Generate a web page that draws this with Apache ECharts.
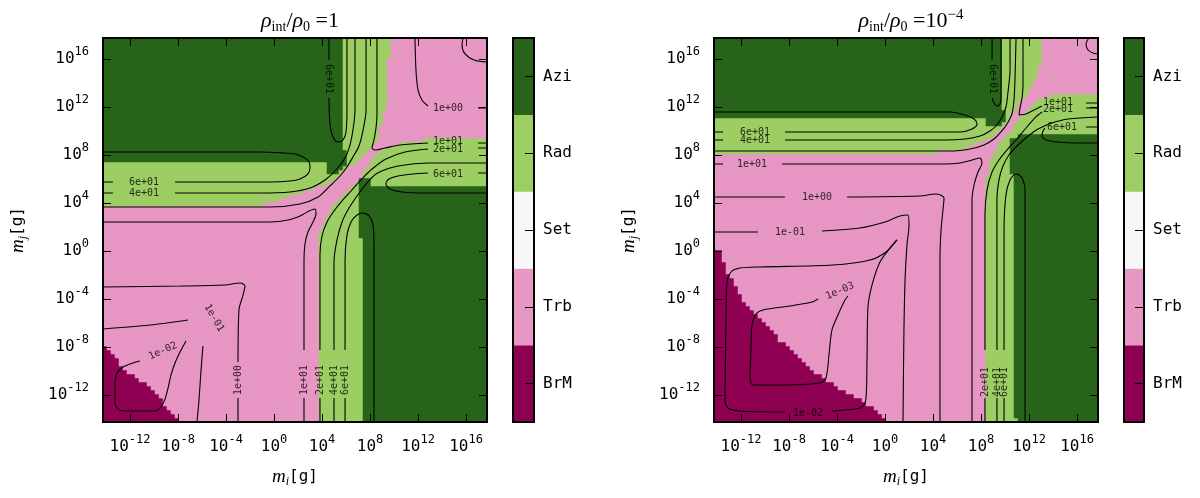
<!DOCTYPE html>
<html><head><meta charset="utf-8">
<script src="https://cdn.jsdelivr.net/npm/echarts@6/dist/echarts.min.js"></script>
<style>html,body{margin:0;padding:0;background:#fff}#c{width:1200px;height:498px}</style>
</head><body><div id="c"></div>
<script>
// ================= DATA (log10 of mass in g) =================
const categories = ['BrM', 'Trb', 'Set', 'Rad', 'Azi'];
const catColors = ['#8e0152', '#e797c4', '#f7f7f7', '#9cce64', '#276419'];
const logRange = [-14.25, 17.75];
const tickExponents = [-12, -8, -4, 0, 4, 8, 12, 16];
const cellsPerDecade = 3;
const titles = ['1', '-4'];

// ---- panel 1 (rho_int/rho_0 = 1) regions ----
const p1Trb = [[-14.25,-14.25],[-14.25,3.67],[-2.0,3.67],[0.5,4.25],[2.58,4.92],[4.25,5.5],[5.5,6.17],[6.33,7.0],[7.75,8.17],[8.58,9.0],[9.42,12.58],[9.67,17.75],[17.75,17.75],[17.75,9.5],[13.58,9.42],[10.5,8.92],[9.42,8.58],[8.58,8.17],[7.83,7.0],[6.92,5.67],[5.92,4.67],[5.08,3.83],[4.25,2.58],[3.67,0.92],[3.67,-14.25]];
const p1AziUpper = [[-14.25,17.75],[5.67,17.75],[5.67,8.42],[6.17,8.42],[6.17,7.33],[5.5,6.58],[4.42,6.58],[4.42,7.33],[-14.25,7.33]];
const p1AziLower = [[7.33,-14.25],[7.33,0.92],[6.92,2.58],[6.92,6.17],[8.25,6.17],[8.25,5.5],[17.75,5.5],[17.75,-14.25]];
const p1BrM = [[-14.25,-14.25],[-14.25,-8.0],[-13.92,-8.0],[-13.08,-9.08],[-12.17,-10.17],[-11.17,-10.75],[-10.5,-11.17],[-9.75,-11.83],[-8.92,-13.0],[-8.08,-14.08],[-7.83,-14.25]];

// ---- panel 2 (rho_int/rho_0 = 1e-4) regions ----
const p2Trb = [[-14.25,-14.25],[-14.25,8.25],[4.58,8.25],[6.67,8.58],[7.92,9.08],[8.92,9.58],[9.58,10.08],[10.08,10.67],[10.67,11.42],[11.25,12.25],[11.92,13.25],[12.58,14.42],[13.08,15.75],[13.08,17.75],[17.75,17.75],[17.75,13.0],[13.75,12.92],[12.92,12.75],[12.17,12.08],[11.42,11.25],[10.75,10.42],[10.17,9.75],[9.58,9.0],[9.08,8.17],[8.67,7.08],[8.42,5.5],[8.33,-14.25]];
const p2AziUpper = [[-14.25,17.75],[9.75,17.75],[9.75,11.92],[10.08,11.75],[10.08,10.75],[9.58,10.25],[8.33,10.42],[8.33,10.92],[-14.25,10.92]];
const p2AziLower = [[17.75,9.83],[12.92,9.83],[11.67,9.67],[10.58,9.5],[10.42,8.42],[10.75,4.25],[10.92,-14.25],[17.75,-14.25]];
const p2BrM = [[-14.25,-14.25],[-14.25,-0.08],[-13.75,-0.08],[-13.08,-1.83],[-11.42,-4.67],[-8.75,-7.42],[-5.67,-10.17],[-3.5,-11.58],[-1.0,-13.0],[0.17,-14.08],[0.42,-14.25]];

// ---- panel 1 contour segments ----
const p1Contours = [
 [[-14.25,8.25],[-1.17,8.25],[0.75,8.17],[1.75,8.08],[2.42,7.83],[2.92,7.42],[3.0,7.0],[2.83,6.42],[2.17,6.0],[1.33,5.83],[-0.33,5.75],[-8.25,5.75]],
 [[-13.42,5.75],[-14.25,5.75]],
 [[-14.25,4.83],[-13.42,4.83]],
 [[-8.25,4.83],[-1.17,4.83],[1.33,4.92],[3.0,5.25],[4.25,5.92],[5.17,6.75],[5.92,7.75],[6.33,8.83],[6.58,10.08],[6.75,11.75],[6.75,17.75]],
 [[-14.25,3.67],[-0.33,3.67],[2.17,3.92],[3.67,4.5],[4.67,5.42],[5.5,6.25],[6.08,7.0],[6.58,7.83],[7.08,8.75],[7.42,10.08],[7.67,11.75],[7.67,17.75]],
 [[-14.25,2.42],[-0.33,2.42],[1.17,2.58],[2.17,2.92],[2.92,3.33],[3.42,3.5],[3.5,3.08],[3.25,2.42],[2.83,1.58],[2.58,0.58],[2.5,-0.75],[2.5,-8.25]],
 [[2.5,-12.25],[2.5,-14.25]],
 [[8.58,17.75],[8.58,11.33],[8.5,10.25],[8.33,9.25],[8.17,8.58],[8.5,8.42],[9.25,8.58],[10.5,8.83],[12.83,9.0]],
 [[17.0,9.0],[17.75,9.0]],
 [[4.58,17.75],[4.58,15.92]],
 [[4.58,12.75],[4.67,10.5],[4.92,9.5],[5.33,9.08],[5.75,9.25],[6.0,9.92],[6.08,11.75],[6.08,17.75]],
 [[11.75,17.75],[11.83,15.08],[12.0,13.42],[12.33,12.58],[12.83,12.08]],
 [[17.0,11.92],[17.75,11.92]],
 [[15.75,17.75],[15.67,17.17],[15.92,16.42],[16.67,15.92],[17.75,15.75]],
 [[3.83,-14.25],[3.83,-12.25]],
 [[3.83,-8.25],[3.83,-0.33],[4.0,1.25],[4.42,2.42],[5.0,3.33],[5.67,4.17],[6.42,5.0],[7.25,5.92],[8.17,6.83],[9.33,7.67],[10.92,8.25],[12.83,8.5]],
 [[17.0,8.58],[17.75,8.58]],
 [[5.0,-14.25],[5.0,-12.25]],
 [[5.0,-8.25],[5.0,-0.92],[5.25,0.92],[5.67,2.42],[6.25,3.58],[6.92,4.58],[7.67,5.58],[8.5,6.42],[9.67,6.92],[10.92,7.17],[12.83,7.33],[17.75,7.33]],
 [[5.92,-14.25],[5.92,-12.25]],
 [[5.92,-8.25],[5.92,-0.75],[6.08,1.33],[6.42,2.42],[6.92,3.0],[7.42,3.17],[7.92,2.92],[8.25,2.17],[8.33,0.5],[8.33,-14.25]],
 [[17.75,6.5],[17.0,6.5]],
 [[12.83,6.5],[11.58,6.42],[10.33,6.25],[9.58,6.0],[9.33,5.58],[9.67,5.17],[10.67,4.92],[12.17,4.83],[17.75,4.83]],
 [[-14.25,-3.0],[-7.83,-2.92],[-4.08,-2.83],[-2.83,-2.67],[-2.42,-2.92],[-2.58,-3.67],[-2.92,-4.92],[-3.0,-9.25]],
 [[-3.0,-12.25],[-3.0,-14.25]],
 [[-14.25,-6.5],[-10.33,-6.17],[-7.17,-5.75]],
 [[-5.92,-7.92],[-6.08,-9.92],[-6.25,-12.42],[-6.42,-14.25]],
 [[-7.33,-7.5],[-7.83,-8.42],[-8.25,-9.33],[-8.58,-10.33],[-8.83,-11.42],[-9.08,-12.33],[-9.42,-13.0],[-9.92,-13.33],[-12.5,-13.33],[-13.0,-13.17],[-13.25,-12.67],[-13.25,-11.17],[-13.08,-10.17],[-12.58,-9.67],[-11.75,-9.33],[-11.17,-9.17]]
];
const p1Labels = [
 ['6e+01',-10.83,5.75,0],['4e+01',-10.83,4.83,0],['6e+01',4.58,14.33,-90],
 ['1e+00',14.5,11.92,0],['1e+01',14.5,9.17,0],['2e+01',14.5,8.5,0],['6e+01',14.5,6.42,0],
 ['1e+01',2.5,-10.75,90],['2e+01',3.83,-10.75,90],['4e+01',5.0,-10.75,90],['6e+01',5.92,-10.75,90],
 ['1e+00',-3.0,-10.75,90],['1e-01',-5.0,-5.58,-60],['1e-02',-9.25,-8.33,24]
];

// ---- panel 2 contour segments ----
const p2Contours = [
 [[-14.25,11.58],[5.42,11.58],[6.67,11.33],[7.42,11.0],[7.67,10.58],[7.25,10.17],[6.25,9.92],[-8.33,9.92]],
 [[-13.5,9.92],[-14.25,9.92]],
 [[-14.25,9.25],[-13.5,9.25]],
 [[-8.33,9.25],[5.0,9.25],[6.67,9.33],[7.92,9.58],[8.75,10.0],[9.33,10.5],[9.75,11.17],[10.08,12.0],[10.25,13.25],[10.42,15.08],[10.42,17.75]],
 [[-14.25,8.33],[5.42,8.33],[7.08,8.5],[8.25,8.83],[9.08,9.33],[9.67,9.92],[10.17,10.58],[10.58,11.42],[10.75,12.58],[10.83,14.25],[10.92,17.75]],
 [[-14.25,7.25],[-13.5,7.25]],
 [[-8.58,7.25],[5.0,7.25],[6.25,7.33],[7.25,7.58],[7.92,7.75],[8.08,7.33],[7.75,6.58],[7.42,5.5],[7.25,4.25],[7.25,-14.25]],
 [[11.5,17.75],[11.5,13.83],[11.42,12.75],[11.25,11.92],[11.17,11.33],[11.75,11.42],[12.42,11.75],[13.08,12.08]],
 [[16.75,12.33],[17.75,12.33]],
 [[8.33,-14.25],[8.33,-12.25]],
 [[8.33,-8.25],[8.33,3.0],[8.5,5.08],[8.92,6.58],[9.5,7.58],[10.17,8.42],[10.92,9.25],[11.75,10.25],[12.58,11.17],[13.08,11.58]],
 [[16.75,11.92],[17.75,11.92]],
 [[9.33,-14.25],[9.33,-12.25]],
 [[9.33,-8.25],[9.33,4.25],[9.5,5.92],[9.83,7.08],[10.33,8.0],[11.0,8.75],[11.83,9.5],[12.75,10.17],[13.92,10.67],[15.25,11.0],[17.75,11.17]],
 [[9.92,-14.25],[9.92,-12.25]],
 [[9.92,-8.25],[9.92,1.75],[10.08,4.67],[10.42,5.92],[10.92,6.42],[11.42,6.08],[11.67,4.92],[11.67,-14.25]],
 [[17.75,10.33],[16.75,10.33]],
 [[13.33,10.25],[13.17,10.0],[13.08,9.58],[13.42,9.25],[14.42,9.08],[15.83,9.0],[17.75,9.0]],
 [[8.92,17.75],[8.92,15.92]],
 [[8.92,12.75],[9.08,12.33],[9.33,12.08],[9.58,12.25],[9.67,12.75],[9.67,17.75]],
 [[-14.25,4.5],[-8.33,4.5]],
 [[-3.17,4.5],[2.92,4.58],[4.25,4.75],[4.92,4.42],[4.83,3.42],[4.67,1.75],[4.58,-0.75],[4.58,-14.25]],
 [[-14.25,1.58],[-10.58,1.58]],
 [[-5.25,1.67],[-2.08,1.92],[0.0,2.42],[1.25,2.92],[1.92,3.0],[2.0,2.17],[1.83,0.5],[1.67,-2.42],[1.58,-6.58],[1.5,-14.25]],
 [[1.0,0.92],[0.08,-0.08],[-1.25,-0.75],[-4.33,-1.17],[-10.42,-1.33],[-12.08,-1.42],[-12.83,-1.75],[-13.17,-2.67],[-13.25,-5.75],[-13.33,-12.42],[-13.08,-13.08],[-12.08,-13.33],[-8.33,-13.42]],
 [[-4.42,-13.33],[-2.5,-13.17],[-1.83,-12.92],[-1.58,-12.25],[-1.5,-9.08],[-1.42,-4.67],[-1.08,-2.83],[-0.42,-0.92],[0.42,0.25],[1.0,0.92]],
 [[-5.58,-4.0],[-6.08,-4.25],[-7.92,-4.58],[-10.17,-4.92],[-10.75,-5.25],[-11.08,-6.17],[-11.17,-8.25],[-11.25,-10.58],[-11.0,-11.17],[-9.17,-11.17],[-5.42,-11.0],[-4.92,-10.58],[-4.67,-8.67],[-4.42,-6.58],[-3.92,-5.33],[-3.33,-4.08],[-3.08,-3.75]],
 [[17.0,17.75],[16.75,17.25],[16.92,16.75],[17.33,16.5],[17.75,16.42]]
];
const p2Labels = [
 ['6e+01',-10.83,9.92,0],['4e+01',-10.83,9.25,0],['1e+01',-11.08,7.25,0],
 ['1e+00',-5.67,4.5,0],['1e-01',-7.92,1.58,0],['6e+01',9.0,14.33,-90],
 ['1e+01',14.42,12.42,0],['2e+01',14.42,11.83,0],['6e+01',14.75,10.33,0],
 ['2e+01',8.33,-10.92,90],['4e+01',9.33,-10.92,90],['6e+01',9.92,-10.92,90],
 ['1e-03',-3.75,-3.33,23],['1e-02',-6.42,-13.5,0]
];

// ================= BUILD =================
function inside(p, poly) {
  let c = false;
  for (let i = 0, j = poly.length - 1; i < poly.length; j = i++) {
    const xi = poly[i][0], yi = poly[i][1], xj = poly[j][0], yj = poly[j][1];
    if ((yi > p[1]) !== (yj > p[1]) && p[0] < (xj - xi) * (p[1] - yi) / (yj - yi) + xi) c = !c;
  }
  return c;
}
const nCells = Math.round((logRange[1] - logRange[0]) * cellsPerDecade);
const cellIdx = Array.from({length: nCells}, (_, i) => String(i));
function raster(layers) {
  const out = [];
  for (let i = 0; i < nCells; i++) for (let j = 0; j < nCells; j++) {
    const p = [logRange[0] + (i + 0.5) / cellsPerDecade, logRange[0] + (j + 0.5) / cellsPerDecade];
    let c = 3;
    for (const [poly, cat] of layers) if (inside(p, poly)) c = cat;
    out.push([i, j, c]);
  }
  return out;
}
const p1Cells = raster([[p1Trb,1],[p1AziUpper,4],[p1AziLower,4],[p1BrM,0]]);
const p2Cells = raster([[p2Trb,1],[p2AziUpper,4],[p2AziLower,4],[p2BrM,0]]);

const MONO = 'DejaVu Sans Mono', SERIF = 'Liberation Serif';
const tickRich = {
  a: {fontFamily: MONO, fontSize: 16, lineHeight: 26, color: '#000'},
  b: {fontFamily: MONO, fontSize: 12, lineHeight: 12, verticalAlign: 'top', color: '#000'}
};
const nameRich = {
  m: {fontFamily: SERIF, fontStyle: 'italic', fontSize: 19, lineHeight: 22, color: '#000'},
  i: {fontFamily: SERIF, fontStyle: 'italic', fontSize: 12, lineHeight: 12, verticalAlign: 'bottom', color: '#000'},
  g: {fontFamily: MONO, fontSize: 16, lineHeight: 22, color: '#000'}
};
const lineBlack = {color: '#000', width: 2};
function valAxis(gi, pos, main, isX) {
  const ax = {
    gridIndex: gi, type: 'value', min: logRange[0], max: logRange[1], position: pos, z: 10,
    axisLine: {show: true, onZero: false, lineStyle: lineBlack},
    axisTick: {show: true, inside: true, length: 8, customValues: tickExponents, lineStyle: {color: '#000', width: 1}},
    axisLabel: {show: main, customValues: tickExponents, margin: isX ? 12 : 14,
      formatter: v => '{a|10}{b|' + v + '}', rich: tickRich},
    splitLine: {show: false}
  };
  if (main) {
    ax.name = isX ? '{m|m}{i|i}{g|[g]}' : '{m|m}{i|j}{g|[g]}';
    ax.nameLocation = 'middle';
    ax.nameGap = isX ? 44 : 74;
    ax.nameTextStyle = {rich: nameRich};
  }
  return ax;
}
function catAxis(gi) { return {gridIndex: gi, type: 'category', data: cellIdx, show: false}; }
function cbX(gi, pos) {
  return {gridIndex: gi, type: 'category', data: ['c'], position: pos, z: 10,
    axisLine: {show: true, onZero: false, lineStyle: lineBlack}, axisTick: {show: false}, axisLabel: {show: false}};
}
function cbY(gi, pos, main) {
  return {gridIndex: gi, type: 'category', data: categories, position: pos, z: 10,
    axisLine: {show: true, onZero: false, lineStyle: lineBlack},
    axisTick: {show: main, inside: true, length: 9, alignWithLabel: true, lineStyle: {color: '#000', width: 1}},
    axisLabel: {show: main, fontFamily: MONO, fontSize: 16, color: '#000', margin: 9}};
}

const series = [
  {type: 'heatmap', xAxisIndex: 0, yAxisIndex: 0, data: p1Cells, progressive: 0, silent: true},
  {type: 'heatmap', xAxisIndex: 3, yAxisIndex: 3, data: p2Cells, progressive: 0, silent: true},
  {type: 'heatmap', xAxisIndex: 6, yAxisIndex: 6, data: categories.map((c, k) => [0, k, k]), progressive: 0, silent: true},
  {type: 'heatmap', xAxisIndex: 8, yAxisIndex: 8, data: categories.map((c, k) => [0, k, k]), progressive: 0, silent: true}
];
function addContours(segs, xi, yi) {
  segs.forEach(s => series.push({type: 'line', xAxisIndex: xi, yAxisIndex: yi, data: s, showSymbol: false,
    smooth: 0.3, silent: true, z: 4, lineStyle: {color: '#000', width: 1.1}}));
}
function addLabels(lbls, xi, yi) {
  series.push({type: 'scatter', xAxisIndex: xi, yAxisIndex: yi, symbolSize: 1, silent: true, z: 5,
    itemStyle: {color: 'rgba(0,0,0,0)'},
    label: {show: true, position: 'inside', fontFamily: MONO, fontSize: 10, color: '#000'},
    data: lbls.map(l => ({value: [l[1], l[2]], label: {formatter: l[0], rotate: l[3]}}))});
}
addContours(p1Contours, 1, 1); addLabels(p1Labels, 1, 1);
addContours(p2Contours, 4, 4); addLabels(p2Labels, 4, 4);

const titleRich = {
  r: {fontFamily: SERIF, fontStyle: 'italic', fontWeight: 'normal', fontSize: 22, lineHeight: 26, color: '#000'},
  s: {fontFamily: SERIF, fontWeight: 'normal', fontSize: 14, lineHeight: 13, verticalAlign: 'bottom', color: '#000'},
  t: {fontFamily: SERIF, fontWeight: 'normal', fontSize: 22, lineHeight: 26, color: '#000'},
  p: {fontFamily: SERIF, fontWeight: 'normal', fontSize: 15, lineHeight: 13, verticalAlign: 'top', color: '#000'}
};
const option = {
  animation: false,
  title: [
    {text: '{r|ρ}{s|int}{t|/}{r|ρ}{s|0}{t| =' + titles[0] + '}', left: 295, top: 3, textAlign: 'center',
     textStyle: {fontWeight: 'normal', rich: titleRich}},
    {text: '{r|ρ}{s|int}{t|/}{r|ρ}{s|0}{t| =10}{p|' + titles[1].replace('-', '−') + '}', left: 906, top: 3, textAlign: 'center',
     textStyle: {fontWeight: 'normal', rich: titleRich}}
  ],
  grid: [
    {left: 103, top: 38, width: 384, height: 384},
    {left: 714, top: 38, width: 384, height: 384},
    {left: 513, top: 38, width: 21, height: 384},
    {left: 1124, top: 38, width: 20, height: 384}
  ],
  xAxis: [catAxis(0), valAxis(0, 'bottom', true, true), valAxis(0, 'top', false, true),
          catAxis(1), valAxis(1, 'bottom', true, true), valAxis(1, 'top', false, true),
          cbX(2, 'bottom'), cbX(2, 'top'), cbX(3, 'bottom'), cbX(3, 'top')],
  yAxis: [catAxis(0), valAxis(0, 'left', true, false), valAxis(0, 'right', false, false),
          catAxis(1), valAxis(1, 'left', true, false), valAxis(1, 'right', false, false),
          cbY(2, 'right', true), cbY(2, 'left', false), cbY(3, 'right', true), cbY(3, 'left', false)],
  visualMap: {type: 'piecewise', show: false, dimension: 2, seriesIndex: [0, 1, 2, 3],
    pieces: categories.map((c, k) => ({value: k, color: catColors[k]}))},
  series
};
const chart = echarts.init(document.getElementById('c'), null, {renderer: 'canvas'});
chart.setOption(option);
</script></body></html>
